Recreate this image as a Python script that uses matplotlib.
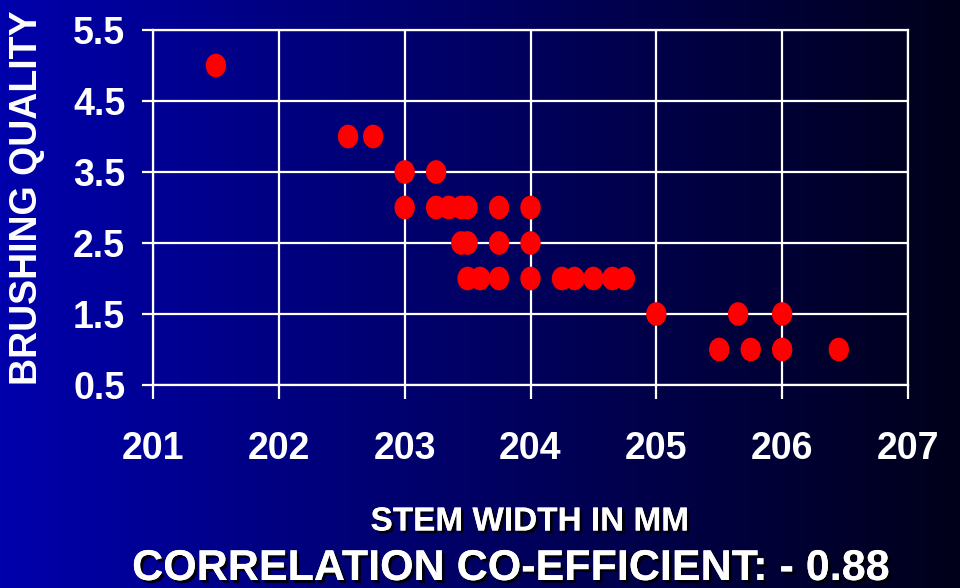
import numpy as np
import matplotlib
matplotlib.use('Agg')
import matplotlib.pyplot as plt
import matplotlib.patheffects as pe
from matplotlib.markers import MarkerStyle
from matplotlib.transforms import Affine2D

# stem width (mm) vs brushing quality
stem_width = [201.5,
              202.55, 202.75,
              203.0, 203.25,
              203.0, 203.25, 203.35, 203.45, 203.5, 203.75, 204.0,
              203.45, 203.5, 203.75, 204.0,
              203.5, 203.6, 203.75, 204.0, 204.25, 204.35, 204.5, 204.65, 204.75,
              205.0, 205.65, 206.0,
              205.5, 205.75, 206.0, 206.45]
quality = [5.0,
           4.0, 4.0,
           3.5, 3.5,
           3.0, 3.0, 3.0, 3.0, 3.0, 3.0, 3.0,
           2.5, 2.5, 2.5, 2.5,
           2.0, 2.0, 2.0, 2.0, 2.0, 2.0, 2.0, 2.0, 2.0,
           1.5, 1.5, 1.5,
           1.0, 1.0, 1.0, 1.0]

xticks = [201, 202, 203, 204, 205, 206, 207]
yticks = [0.5, 1.5, 2.5, 3.5, 4.5, 5.5]

fam = ['Liberation Sans', 'DejaVu Sans']

fig = plt.figure(figsize=(9.6, 5.88), dpi=100)

# blue -> near black horizontal gradient
bg = fig.add_axes([0, 0, 1, 1], zorder=-10)
grad = np.linspace(0, 1, 256)
c0 = np.array([0, 0, 172]) / 255
c1 = np.array([0, 0, 26]) / 255
img = c0[None, :] * (1 - grad[:, None]) + c1[None, :] * grad[:, None]
bg.imshow(img[None, :, :], aspect='auto', extent=[0, 1, 0, 1])
bg.axis('off')

ax = fig.add_axes([153/960, 1 - 385/588, 755/960, 355/588])
ax.set_facecolor('none')

mk = MarkerStyle('o', transform=Affine2D().scale(0.86, 1.0))
ax.scatter(stem_width, quality, s=290, marker=mk, color='#ff0000',
           edgecolors='none', zorder=3, clip_on=False)

ax.set_xlim(201, 207)
ax.set_ylim(0.5, 5.5)
ax.set_xticks(xticks)
ax.set_yticks(yticks)
ax.grid(True, color='white', linewidth=1.6)
ax.set_axisbelow(True)
for s in ax.spines.values():
    s.set_color('white')
    s.set_linewidth(1.6)

ax.tick_params(axis='x', direction='out', length=10, width=1.6, color='white',
               pad=23, labelcolor='white')
ax.tick_params(axis='y', direction='out', length=8, width=1.6, color='white',
               pad=12, labelcolor='white')
for lab in ax.get_xticklabels() + ax.get_yticklabels():
    lab.set_fontfamily(fam)
    lab.set_fontweight('bold')
    lab.set_fontsize(27)

ax.set_ylabel('BRUSHING QUALITY', family=fam, fontweight='bold', fontsize=27,
              color='white')
ax.yaxis.set_label_coords(-0.143, 0.527)

shadow = [pe.withSimplePatchShadow(offset=(2, -2), shadow_rgbFace='black', alpha=0.9),
          pe.Normal()]
fig.text(530/960, 1 - 522/588, 'STEM WIDTH IN MM', family=fam, fontweight='bold',
         fontsize=24, color='white', ha='center', va='center', path_effects=shadow)
fig.text(510/960, 1 - 569/588, 'CORRELATION CO-EFFICIENT: - 0.88', family=fam,
         fontweight='bold', fontsize=31, color='white', ha='center', va='center',
         path_effects=shadow)

fig.savefig('out.png', dpi=100)
